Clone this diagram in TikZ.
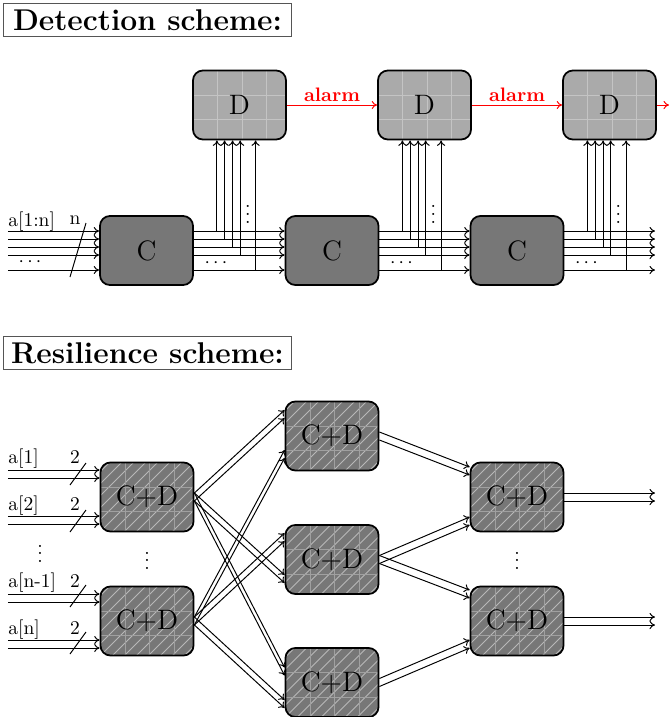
\documentclass[tikz,border=0pt]{standalone}
\usetikzlibrary{arrows.meta,calc}
\definecolor{cfill}{HTML}{777777}
\definecolor{dfill}{HTML}{AAAAAA}
\definecolor{dgrid}{HTML}{C4C4C4}
\definecolor{cdgrid}{HTML}{A0A0A0}
\definecolor{cddiag}{HTML}{B8B8B8}
\definecolor{titleframe}{HTML}{555555}
\begin{document}
\begin{tikzpicture}[x=0.5128pt,y=-0.5128pt,
  >={To[length=2.8pt,width=4.2pt]},
  ln/.style={line width=0.5pt},
  box/.style={draw=black, line width=0.9pt, rounded corners=5.1pt,
    minimum width=47.7pt, minimum height=35.4pt, inner sep=0pt, font=\Large},
  cbox/.style={box, fill=cfill},
  dbox/.style={box, fill=dfill, path picture={
    \foreach \k in {-2,...,2} {
      \draw[dgrid, line width=0.5pt] ([xshift=\k*12.56pt+1.3pt, yshift=-30pt]path picture bounding box.center) -- ++(0,60pt);
      \draw[dgrid, line width=0.5pt] ([yshift=\k*12.56pt+5.1pt, xshift=-30pt]path picture bounding box.center) -- ++(60pt,0);
    }}},
  cdbox/.style={box, fill=cfill, path picture={
    \foreach \k in {-8,...,8} {
      \draw[cddiag, line width=0.45pt] ([xshift=\k*6.15pt-30pt, yshift=-30pt]path picture bounding box.center) -- ++(60pt,60pt);
    }
    \foreach \k in {-2,...,2} {
      \draw[cdgrid, line width=0.5pt] ([xshift=\k*12.56pt+1.3pt, yshift=-30pt]path picture bounding box.center) -- ++(0,60pt);
      \draw[cdgrid, line width=0.5pt] ([yshift=\k*12.56pt+5.1pt, xshift=-30pt]path picture bounding box.center) -- ++(60pt,0);
    }}},
  lbl/.style={inner sep=0pt, font=\normalsize},
  title/.style={draw=titleframe, line width=0.5pt, anchor=north west, inner sep=0pt,
    minimum width=147.7pt, minimum height=16.9pt, font=\fontsize{15.4}{18}\selectfont\bfseries},
  alarmlbl/.style={above, inner sep=1.5pt, text=red, font=\bfseries},
]
\useasboundingbox (0,0) rectangle (669,717);

% ---------------- Detection scheme ----------------
\node[title] (T1) at (3,3) {Detection scheme:};

\node[cbox] (C1) at (146.5,250.5) {C};
\node[cbox] (C2) at (332,250.5) {C};
\node[cbox] (C3) at (517,250.5) {C};
\node[dbox] (D1) at (239.5,105) {D};
\node[dbox] (D2) at (424.5,105) {D};
\node[dbox] (D3) at (609.5,105) {D};

\coordinate (IN) at (8,250.5);
\coordinate (OUT) at (655,250.5);
\coordinate (ALOUT) at (669,105);

\foreach \d in {-19.5,-11.5,-3.5,4.5,19.5} {
  \draw[->,ln] ($(IN)+(0,\d)$) -- ($(C1.west)+(0,\d)$);
  \draw[->,ln] ($(C1.east)+(0,\d)$) -- ($(C2.west)+(0,\d)$);
  \draw[->,ln] ($(C2.east)+(0,\d)$) -- ($(C3.west)+(0,\d)$);
  \draw[->,ln] ($(C3.east)+(0,\d)$) -- ($(OUT)+(0,\d)$);
}
\foreach \c/\dd in {C1/D1,C2/D2,C3/D3} {
  \foreach \dx/\d in {23/-19.5,30.7/-11.5,38.7/-3.5,46.3/4.5,61.7/19.5} {
    \draw[->,ln] ($(\c.east)+(\dx,\d)$) coordinate (tv) -- (tv |- \dd.south);
  }
  \node[lbl] (hd\c) at ($(\c.east)+(22,12.5)$) {$\cdots$};
  \node[lbl] (vd\c) at ($(\c.east)+(54,-42)$) {$\vdots$};
}
\node[lbl] (hdin) at (30,262.5) {$\cdots$};

\draw[->,ln,red] (D1.east) -- node[alarmlbl] (al1) {alarm} (D2.west);
\draw[->,ln,red] (D2.east) -- node[alarmlbl] (al2) {alarm} (D3.west);
\draw[->,ln,red] (D3.east) -- (ALOUT);

\coordinate (sl1a) at (70,277);
\coordinate (sl1b) at (86,223);
\draw[ln] (sl1a) -- (sl1b);
\node[lbl, anchor=west] (la1) at (8,222) {a[1:n]};
\node[lbl] (ln1) at (75,220) {n};

% ---------------- Resilience scheme ----------------
\node[title] (T2) at (3,336) {Resilience scheme:};

\node[cdbox] (CD1) at (147,497) {C+D};
\node[cdbox] (CD2) at (147,621) {C+D};
\node[cdbox] (M1) at (332,436) {C+D};
\node[cdbox] (M2) at (332,559.5) {C+D};
\node[cdbox] (M3) at (332,682.5) {C+D};
\node[cdbox] (R1) at (517,497) {C+D};
\node[cdbox] (R2) at (517,621) {C+D};

\coordinate (INa) at (8,497);
\coordinate (INb) at (8,621);
\coordinate (OUTa) at (655,497);
\coordinate (OUTb) at (655,621);

\foreach \d in {-27,-19,19,27} {
  \draw[->,ln] ($(INa)+(0,\d)$) -- ($(CD1.west)+(0,\d)$);
  \draw[->,ln] ($(INb)+(0,\d)$) -- ($(CD2.west)+(0,\d)$);
}
\foreach \d in {-4,4} {
  \draw[->,ln] ($(R1.east)+(0,\d)$) -- ($(OUTa)+(0,\d)$);
  \draw[->,ln] ($(R2.east)+(0,\d)$) -- ($(OUTb)+(0,\d)$);
}
\foreach \yc/\nm in {474/p1,521/p2,596/p3,643/p4} {
  \coordinate (s\nm a) at (70,\yc+11);
  \coordinate (s\nm b) at (86,\yc-11);
  \draw[ln] (s\nm a) -- (s\nm b);
}
\node[lbl, anchor=west] (lr1) at (8,459) {a[1]};
\node[lbl] (lr1n) at (75,457) {2};
\node[lbl, anchor=west] (lr2) at (8,506) {a[2]};
\node[lbl] (lr2n) at (75,504) {2};
\node[lbl, anchor=west] (lr3) at (8,583) {a[n-1]};
\node[lbl] (lr3n) at (75,581) {2};
\node[lbl, anchor=west] (lr4) at (8,630) {a[n]};
\node[lbl] (lr4n) at (75,628) {2};

\foreach \s/\t/\o in {CD1/M1/-22, CD1/M2/19.5, CD1/M3/-11, CD2/M1/18, CD2/M2/-22.5, CD2/M3/21.5,
                      M1/R1/-26, M2/R1/24, M2/R2/-27, M3/R2/23} {
  \draw[->,ln] ($(\s.east)+(0,-4)$) -- ($(\t.west)+(0,\o-4)$);
  \draw[->,ln] ($(\s.east)+(0,4)$) -- ($(\t.west)+(0,\o+4)$);
}

\node[lbl] (vr1) at (40,548) {$\vdots$};
\node[lbl] (vr2) at (147,555) {$\vdots$};
\node[lbl] (vr3) at (517,555) {$\vdots$};
\end{tikzpicture}
\end{document}
